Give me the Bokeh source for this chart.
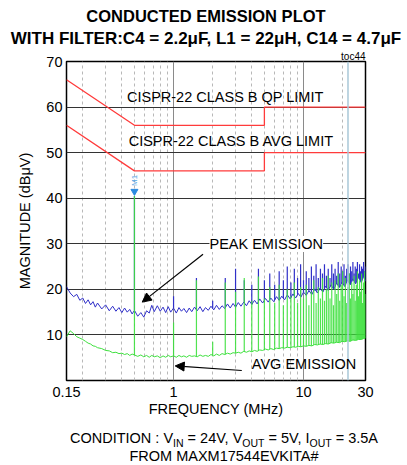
import numpy as np
from bokeh.plotting import figure
from bokeh.layouts import column
from bokeh.models import Label, Span, Arrow, NormalHead, FixedTicker, Range1d, Div, Title
from bokeh.embed import file_html
from bokeh.resources import INLINE

FONT = "Liberation Sans"

# ---------------- data ----------------
scan_freq_mhz = [
    0.15, 0.16, 0.17, 0.18, 0.19, 0.20, 0.21, 0.22, 0.23, 0.24,
    0.25, 0.26, 0.28, 0.30, 0.32, 0.34, 0.36, 0.38, 0.40, 0.42,
    0.44, 0.46, 0.48, 0.50, 0.53, 0.56, 0.59, 0.62, 0.65, 0.68,
    0.71, 0.75, 0.79, 0.83, 0.87, 0.91, 0.95, 1.00, 1.05, 1.10,
    1.15, 1.20, 1.26, 1.32, 1.38, 1.45, 1.52, 1.60, 1.68, 1.76,
    1.85, 1.94, 2.04, 2.14, 2.25, 2.36, 2.48, 2.60, 2.73, 2.87,
    3.00, 3.15, 3.30, 3.47, 3.64, 3.82, 4.00, 4.20, 4.40, 4.60,
    4.85, 5.10, 5.35, 5.60, 5.90, 6.20, 6.50, 6.80, 7.15, 7.50,
    7.90, 8.30, 8.70, 9.10, 9.55, 10.0, 10.5, 11.0, 11.6, 12.2,
    12.8, 13.4, 14.1, 14.8, 15.5, 16.3, 17.1, 18.0, 18.9, 19.8,
    20.8, 21.8, 22.9, 24.0, 25.2, 26.5, 27.8, 29.0, 30.0,
]
peak_dbuv = [
    20.6, 19.2, 18.4, 18.9, 17.6, 18.1, 16.9, 17.7, 16.6, 17.3,
    16.1, 17.0, 15.7, 16.6, 15.3, 16.3, 15.2, 16.0, 14.9, 15.9,
    15.0, 15.6, 14.6, 15.4, 14.1, 14.9, 13.9, 15.3, 14.8, 16.5,
    15.1, 16.4, 15.2, 16.1, 14.9, 16.2, 15.0, 15.9, 14.8, 16.0,
    15.2, 15.8, 14.9, 15.9, 15.1, 16.1, 15.3, 16.2, 15.1, 16.0,
    15.4, 16.3, 15.5, 16.5, 15.6, 16.4, 15.8, 16.8, 15.9, 16.9,
    16.1, 17.1, 16.3, 17.2, 16.4, 17.5, 16.7, 17.6, 16.8, 17.9,
    17.0, 18.0, 17.2, 18.1, 17.3, 18.4, 17.6, 18.5, 17.7, 18.8,
    17.9, 19.0, 18.1, 19.1, 18.3, 19.4, 18.7, 19.7, 18.9, 20.1,
    19.2, 20.3, 19.4, 20.7, 19.8, 21.0, 20.0, 21.4, 20.4, 21.6,
    20.6, 22.1, 21.0, 22.3, 21.2, 22.7, 21.5, 22.9, 21.8,
]
avg_dbuv = [
    9.6, 10.9, 10.3, 9.6, 9.3, 9.0, 8.6, 8.2, 8.0, 7.6,
    7.5, 7.2, 7.0, 6.6, 6.5, 6.1, 6.2, 5.9, 6.0, 5.7,
    5.9, 5.5, 5.8, 5.6, 5.3, 5.6, 5.2, 5.5, 5.1, 5.5,
    5.2, 5.4, 5.0, 5.4, 5.1, 5.5, 5.2, 5.4, 5.1, 5.5,
    5.2, 5.4, 5.1, 5.5, 5.3, 5.4, 5.2, 5.6, 5.3, 5.5,
    5.3, 5.7, 5.4, 5.8, 5.5, 5.9, 5.7, 6.0, 5.8, 6.1,
    6.0, 6.2, 6.0, 6.4, 6.2, 6.5, 6.3, 6.6, 6.4, 6.7,
    6.6, 6.9, 6.7, 7.0, 6.8, 7.1, 7.0, 7.2, 7.1, 7.3,
    7.2, 7.4, 7.3, 7.5, 7.4, 7.6, 7.5, 7.7, 7.6, 7.9,
    7.8, 8.0, 7.9, 8.1, 8.0, 8.3, 8.2, 8.4, 8.3, 8.6,
    8.5, 8.7, 8.6, 8.9, 8.8, 9.0, 9.0, 9.2, 9.3,
]
harmonic_mhz = [
    0.5, 1.0, 1.5, 2.0, 2.5, 3.0, 3.5, 4.0, 4.5, 5.0,
    5.5, 6.0, 6.5, 7.0, 7.5, 8.0, 8.5, 9.0, 9.5, 10.0,
    10.5, 11.0, 11.5, 12.0, 12.5, 13.0, 13.5, 14.0, 14.5, 15.0,
    15.5, 16.0, 16.5, 17.0, 17.5, 18.0, 18.5, 19.0, 19.5, 20.0,
    20.5, 21.0, 21.5, 22.0, 22.5, 23.0, 23.5, 24.0, 24.5, 25.0,
    25.5, 26.0, 26.5, 27.0, 27.5, 28.0, 28.5, 29.0, 29.5, 30.0,
]
harmonic_avg_dbuv = [
    40.5, 12.7, 22.0, 8.5, 21.5, 19.5, 22.5, 17.5, 22.8, 18.0,
    20.5, 17.0, 21.0, 16.5, 20.0, 18.5, 21.5, 17.0, 20.5, 18.0,
    21.0, 16.5, 19.5, 22.0, 17.0, 20.5, 18.0, 22.5, 17.5, 20.0,
    23.0, 18.0, 21.5, 16.5, 22.0, 19.0, 23.5, 17.5, 21.0, 24.0,
    18.5, 22.5, 17.0, 20.5, 23.5, 18.0, 21.5, 19.0, 23.0, 17.5,
    21.0, 24.0, 18.5, 22.0, 19.5, 23.5, 17.0, 21.5, 24.0, 19.0,
]
harmonic_peak_dbuv = [
    40.5, 18.5, 22.5, 17.5, 22.5, 24.5, 22.0, 21.0, 24.5, 22.0,
    23.5, 21.0, 24.0, 22.0, 25.0, 21.5, 24.5, 22.5, 25.5, 22.0,
    24.0, 22.5, 25.0, 23.0, 25.5, 22.5, 24.5, 23.5, 25.5, 23.0,
    24.5, 22.5, 25.5, 23.5, 24.5, 23.0, 26.0, 23.5, 25.0, 24.0,
    25.5, 23.0, 24.5, 25.5, 23.5, 25.0, 24.0, 26.0, 23.5, 25.0,
    24.5, 26.0, 23.5, 25.5, 24.0, 25.0, 24.5, 26.0, 24.0, 25.0,
]
qp_limit_mhz = [0.15, 0.5, 5.0, 5.0, 30.0]
qp_limit_dbuv = [66, 56, 56, 60, 60]
avg_limit_mhz = [0.15, 0.5, 5.0, 5.0, 30.0]
avg_limit_dbuv = [56, 46, 46, 50, 50]
m1_mhz, m1_dbuv = 0.5, 40.5
marker2_mhz = 22.0
x_ticks = [0.15, 1, 10, 30]
x_minor = [0.2, 0.3, 0.4, 0.5, 0.6, 0.7, 0.8, 0.9, 2, 3, 4, 5, 6, 7, 8, 9, 20]
y_ticks = [10, 20, 30, 40, 50, 60, 70]

# ---------------- figure ----------------
p = figure(x_axis_type="log", x_range=Range1d(0.15, 30), y_range=Range1d(0, 70),
           frame_width=299, frame_height=319,
           min_border_left=66, min_border_right=42, min_border_top=12, min_border_bottom=46,
           output_backend="svg", toolbar_location=None, margin=(0, 0, 0, 0))
p.background_fill_color = "white"
p.border_fill_color = "white"
p.outline_line_color = "black"
p.outline_line_width = 1.5
p.add_layout(Title(text="toc44", align="right", text_font=FONT, text_font_size="10px",
                   text_font_style="normal", text_color="black", standoff=0, offset=0),
             "above")

p.xaxis.ticker = FixedTicker(ticks=x_ticks, minor_ticks=x_minor)
p.xaxis.major_label_overrides = {0.15: "0.15", 1: "1", 10: "10", 30: "30"}
p.yaxis.ticker = FixedTicker(ticks=y_ticks)
for ax in (p.xaxis[0], p.yaxis[0]):
    ax.axis_line_color = None
    ax.major_tick_line_color = None
    ax.minor_tick_line_color = None
    ax.major_tick_out = 0
    ax.major_label_text_font = FONT
    ax.major_label_text_font_size = "14.5px"
    ax.major_label_text_color = "black"
    ax.axis_label_text_font = FONT
    ax.axis_label_text_font_size = "14.5px"
    ax.axis_label_text_font_style = "normal"
    ax.axis_label_text_color = "black"
p.xaxis.axis_label = "FREQUENCY (MHz)"
p.yaxis.axis_label = "MAGNITUDE (dBμV)"
p.xaxis.major_label_standoff = 2
p.xaxis.axis_label_standoff = 1
p.yaxis.major_label_standoff = 4
p.yaxis.axis_label_standoff = 10

p.xgrid.grid_line_color = "#8a8a8a"
p.xgrid.grid_line_width = 1
p.xgrid.minor_grid_line_color = "#b8b8b8"
p.xgrid.minor_grid_line_dash = "3 3"
p.ygrid.grid_line_color = "#333333"
p.ygrid.grid_line_width = 1

p.add_layout(Span(location=marker2_mhz, dimension="height", line_color="#a9c8d8", line_width=1.5))

# traces
log_scan = np.log10(scan_freq_mhz)
log_h = np.log10(harmonic_mhz)
peak_base = np.interp(log_h, log_scan, peak_dbuv)
avg_base = np.interp(log_h, log_scan, avg_dbuv)

BLUE = "#3030c8"
GREEN = "#3ee03e"
p.line(scan_freq_mhz, peak_dbuv, line_color=BLUE, line_width=1)
p.segment(x0=harmonic_mhz, y0=peak_base, x1=harmonic_mhz, y1=harmonic_peak_dbuv,
          line_color=BLUE, line_width=1.2)
p.line(scan_freq_mhz, avg_dbuv, line_color=GREEN, line_width=1)
p.segment(x0=harmonic_mhz, y0=avg_base, x1=harmonic_mhz, y1=harmonic_avg_dbuv,
          line_color=GREEN, line_width=1.2, line_alpha=0.9)

# limits
RED = "#ff3b3b"
p.line(qp_limit_mhz, qp_limit_dbuv, line_color=RED, line_width=1.3)
p.line(avg_limit_mhz, avg_limit_dbuv, line_color=RED, line_width=1.3)

# marker M1
p.scatter([m1_mhz], [m1_dbuv + 1.0], marker="inverted_triangle", size=7,
          fill_color="#2a8ae0", line_color="#2a8ae0")
p.add_layout(Label(x=m1_mhz, y=m1_dbuv + 2.2, text="M1", angle=np.pi / 2,
                   text_font_size="8px", text_color="#55a5e5", text_font=FONT,
                   text_align="left", text_baseline="middle"))

# annotations inside plot
def plot_label(x, y, text, bg=None):
    lab = Label(x=x, y=y, text=text, text_font=FONT, text_font_size="14.5px",
                text_color="black", text_align="center", text_baseline="middle")
    if bg:
        lab.background_fill_color = bg
    p.add_layout(lab)

plot_label(2.5, 62.3, "CISPR-22 CLASS B QP LIMIT")
plot_label(2.78, 52.5, "CISPR-22 CLASS B AVG LIMIT")
plot_label(5.17, 29.95, "PEAK EMISSION", bg="white")
plot_label(10.1, 3.6, "AVG EMISSION")
p.add_layout(Arrow(end=NormalHead(size=9, fill_color="black", line_color="black"),
                   x_start=1.686, y_start=27.7, x_end=0.574, y_end=17.2,
                   line_color="black", line_width=1.2))
p.add_layout(Arrow(end=NormalHead(size=9, fill_color="black", line_color="black"),
                   x_start=3.35, y_start=2.2, x_end=1.03, y_end=3.2,
                   line_color="black", line_width=1.2))

# ---------------- title and footer text ----------------
base = "position:absolute;white-space:nowrap;font-family:'Liberation Sans';color:black;"
top_html = (
    '<div style="position:relative;width:407px;height:48px;">'
    f'<div style="{base}left:5px;width:402px;top:5px;line-height:22px;text-align:center;'
    'font-size:16.5px;font-weight:bold;">CONDUCTED EMISSION PLOT</div>'
    f'<div style="{base}left:5px;width:402px;top:30px;line-height:18px;text-align:center;'
    'font-size:17px;font-weight:bold;">WITH FILTER:C4 = 2.2μF, L1 = 22μH, C14 = 4.7μF</div>'
    '</div>'
)
sub = '<sub style="font-size:10.5px;line-height:0;">'
bottom_html = (
    '<div style="position:relative;width:407px;height:38px;">'
    f'<div style="{base}left:41px;width:366px;top:3px;line-height:18px;text-align:center;'
    f'font-size:14.5px;">CONDITION : V{sub}IN</sub> = 24V, V{sub}OUT</sub> = 5V, '
    f'I{sub}OUT</sub> = 3.5A</div>'
    f'<div style="{base}left:41px;width:366px;top:21px;line-height:18px;text-align:center;'
    'font-size:14.5px;">FROM MAXM17544EVKITA#</div>'
    '</div>'
)
top_div = Div(text=top_html, width=407, height=48, margin=(0, 0, 0, 0))
bottom_div = Div(text=bottom_html, width=407, height=38, margin=(0, 0, 0, 0))

layout = column(top_div, p, bottom_div, spacing=0, margin=(0, 0, 0, 0))
open("out.html", "w").write(file_html(layout, INLINE))
